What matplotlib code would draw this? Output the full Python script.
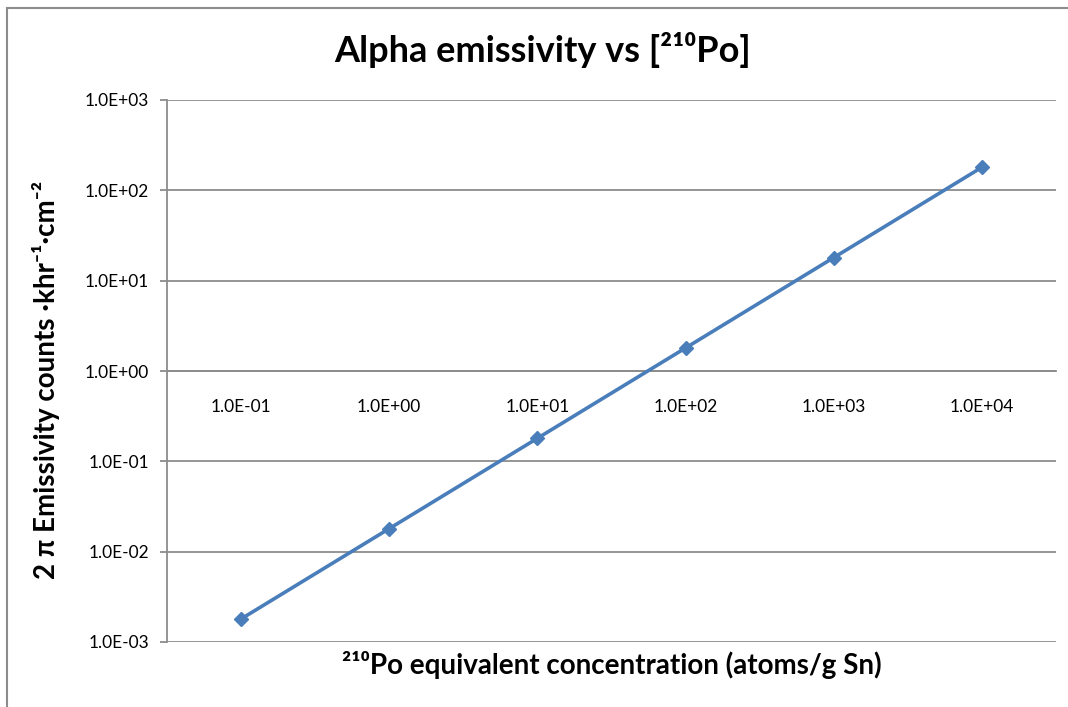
import matplotlib
matplotlib.use('Agg')
import matplotlib.pyplot as plt
from matplotlib.patches import Rectangle
from matplotlib.ticker import FixedLocator, FuncFormatter, NullLocator

plt.rcParams['font.family'] = ['Lato', 'DejaVu Sans']

#### data ########
categories = ['1.0E-01', '1.0E+00', '1.0E+01', '1.0E+02', '1.0E+03', '1.0E+04']
emissivity = [0.0018, 0.018, 0.18, 1.8, 18, 180]   # counts/khr/cm^2
y_ticks = [1e-3, 1e-2, 1e-1, 1e0, 1e1, 1e2, 1e3]

line_col = '#4a7ebb'
grid_col = '#8c8c8c'

W, H = 1068, 707
fig = plt.figure(figsize=(W / 100, H / 100), dpi=100)

# chart area border (excel style)
fig.patches.append(Rectangle((7 / W, -0.1), 1.2, 1 - 8 / H + 0.1, transform=fig.transFigure,
                             fill=False, edgecolor='#8c8c8c', lw=1.5))

# plot area in pixels
x0, x1 = 167, 1056
y0, y1 = 100, 642
ax = fig.add_axes([x0 / W, 1 - y1 / H, (x1 - x0) / W, (y1 - y0) / H])

xpos = list(range(len(categories)))
ax.plot(xpos, emissivity, color=line_col, lw=2.6, marker='D', ms=7.5,
        markeredgecolor=line_col, markerfacecolor=line_col, zorder=3)

ax.set_yscale('log')
ax.set_ylim(1e-3, 1e3)
ax.set_xlim(-0.5, len(categories) - 0.5)

ax.yaxis.set_major_locator(FixedLocator(y_ticks))
ax.yaxis.set_minor_locator(NullLocator())
ax.yaxis.set_major_formatter(FuncFormatter(lambda v, p: ('%.1E' % v)))
ax.grid(axis='y', color=grid_col, lw=1.3)
ax.set_axisbelow(True)

ax.set_xticks(xpos)
ax.set_xticklabels(categories)

# horizontal axis crosses at 1.0E+00
ax.spines['bottom'].set_position(('data', 1.0))
ax.spines['bottom'].set_color(grid_col)
ax.spines['bottom'].set_linewidth(1.3)
ax.spines['top'].set_visible(False)
ax.spines['right'].set_visible(False)
ax.spines['left'].set_color(grid_col)
ax.spines['left'].set_linewidth(1.3)

ax.tick_params(axis='x', length=0, pad=20, labelsize=12.5)
ax.tick_params(axis='y', length=5, width=1.3, color=grid_col, pad=8, labelsize=12.5)

fig.text(543 / W, 1 - 50 / H, 'Alpha emissivity vs [²¹⁰Po]', ha='center', va='center',
         fontsize=26, fontweight='bold')
fig.text(46 / W, 1 - 380 / H, '2 π Emissivity counts ·khr⁻¹·cm⁻²', ha='center', va='center',
         rotation=90, fontsize=20, fontweight='bold')
fig.text(612 / W, 1 - 665 / H, '²¹⁰Po equivalent concentration (atoms/g Sn)', ha='center',
         va='center', fontsize=20, fontweight='bold')

fig.savefig('out.png', dpi=100)
